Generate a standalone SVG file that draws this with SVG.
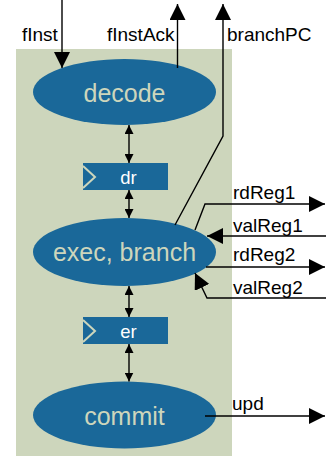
<svg xmlns="http://www.w3.org/2000/svg" width="326" height="456" viewBox="0 0 326 456">
<style>
.ell{fill:#1a6899}
.reg{fill:#1a6899}
.clk{fill:none;stroke:#cdd6bc;stroke-width:2}
.ntxt{font-family:"Liberation Sans",Arial,sans-serif;font-size:25px;fill:#cdd6bc;text-anchor:middle}
.rtxt{font-family:"Liberation Sans",Arial,sans-serif;font-size:18.5px;fill:#ffffff;text-anchor:middle}
.lbl{font-family:"Liberation Sans",Arial,sans-serif;font-size:19px;fill:#000}
.w{fill:none;stroke:#000;stroke-width:1.4}
.big{marker-end:url(#ab)}
.dbl{marker-start:url(#as);marker-end:url(#as)}
</style>
<defs>
<marker id="ab" markerUnits="userSpaceOnUse" markerWidth="16" markerHeight="16" refX="15" refY="7.5" orient="auto" viewBox="0 0 15 15">
<path d="M0,0 L15,7.5 L0,15 z" fill="#000"/>
</marker>
<marker id="as" markerUnits="userSpaceOnUse" markerWidth="9" markerHeight="9" refX="8" refY="4" orient="auto-start-reverse" viewBox="0 0 8 8">
<path d="M0,0 L8,4 L0,8 z" fill="#000"/>
</marker>
</defs>
<rect x="16" y="49" width="216" height="407" fill="#cdd6bc"/>
<g id="decode">
<ellipse class="ell" cx="124.5" cy="92" rx="91.5" ry="33"/>
<text class="ntxt" x="124.5" y="101.5">decode</text>
</g>
<g id="dr">
<rect class="reg" x="83" y="163" width="85" height="27"/>
<polyline class="clk" points="83,166 95,177 83,188"/>
<text class="rtxt" x="128.5" y="184">dr</text>
</g>
<g id="exec">
<ellipse class="ell" cx="124.5" cy="252" rx="91.5" ry="34"/>
<text class="ntxt" x="124.5" y="261">exec, branch</text>
</g>
<g id="er">
<rect class="reg" x="83" y="317" width="85" height="27"/>
<polyline class="clk" points="83,320 95,331 83,342"/>
<text class="rtxt" x="128.5" y="337.5">er</text>
</g>
<g id="commit">
<ellipse class="ell" cx="124.5" cy="415" rx="91.5" ry="33.5"/>
<text class="ntxt" x="124.5" y="424.5">commit</text>
</g>
<g id="connectors">
<line class="w big" x1="62" y1="0" x2="62" y2="68"/>
<line class="w big" x1="177.5" y1="68" x2="177.5" y2="4"/>
<polyline class="w big" points="175,225 223,136 223,4"/>
<polyline class="w big" points="195,230 205,204 325,204"/>
<line class="w big" x1="326" y1="236" x2="207" y2="236"/>
<line class="w big" x1="206" y1="267" x2="325" y2="267"/>
<polyline class="w big" points="326,298 207,298 195,273"/>
<line class="w big" x1="205" y1="416" x2="325" y2="416"/>
<line class="w dbl" x1="129" y1="125" x2="129" y2="163"/>
<line class="w dbl" x1="129" y1="190" x2="129" y2="218"/>
<line class="w dbl" x1="129" y1="286" x2="129" y2="317"/>
<line class="w dbl" x1="129" y1="344" x2="129" y2="381.5"/>
</g>
<g id="labels">
<text class="lbl" x="22" y="41">fInst</text>
<text class="lbl" x="107" y="41">fInstAck</text>
<text class="lbl" x="227" y="41">branchPC</text>
<text class="lbl" x="233" y="199">rdReg1</text>
<text class="lbl" x="233" y="232">valReg1</text>
<text class="lbl" x="233" y="261">rdReg2</text>
<text class="lbl" x="233" y="294">valReg2</text>
<text class="lbl" x="232" y="410">upd</text>
</g>
</svg>
